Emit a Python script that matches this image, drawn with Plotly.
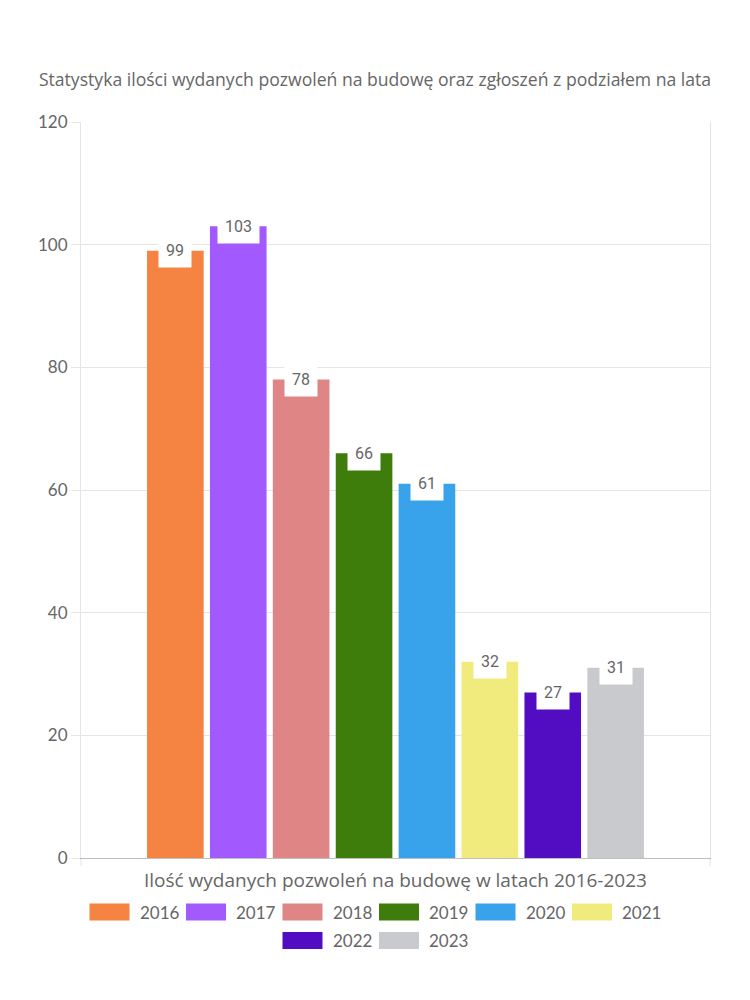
import plotly.graph_objects as go

years = ["2016", "2017", "2018", "2019", "2020", "2021", "2022", "2023"]
values = [99, 103, 78, 66, 61, 32, 27, 31]
colors = ["#f58442", "#a259fe", "#e08585", "#3e7d0c", "#38a3eb", "#f0eb7c", "#520dc2", "#c9cacd"]
category = ["Ilość wydanych pozwoleń na budowę w latach 2016-2023"]
title_text = "Statystyka ilości wydanych pozwoleń na budowę oraz zgłoszeń z podziałem na lata"
y_ticks = [0, 20, 40, 60, 80, 100, 120]

TXT = "#666666"
GRID = "rgba(0,0,0,0.1)"
FONT = "Lato, Open Sans, sans-serif"
WIDE = "Open Sans, sans-serif"

bargap = 0.2
groupgap = 0.1

fig = go.Figure()
for yr, v, c in zip(years, values, colors):
    fig.add_trace(go.Bar(x=[0], y=[v], name=yr, marker=dict(color=c, line=dict(width=0)),
                         showlegend=False, hoverinfo="y+name"))

L, R, T, B = 81, 40, 122, 142
W, H = 750, 1000
pw, ph = W - L - R, H - T - B
def px2x(px):
    return (px - L) / pw
def py2y(py):
    return (H - B - py) / ph

annotations = []
n = len(years)
slot = (1 - bargap) / n
for i, v in enumerate(values):
    xc = -(1 - bargap) / 2 + slot * (i + 0.5)
    annotations.append(dict(x=xc, y=v, xref="x", yref="y", text=str(v), showarrow=False,
                            font=dict(size=16, color=TXT, family="Roboto, sans-serif"),
                            bgcolor="white", borderpad=7, yanchor="middle", xanchor="center"))

# axis title
annotations.append(dict(x=px2x(395.5), y=py2y(880), xref="paper", yref="paper", text=category[0], showarrow=False,
                        yanchor="middle", xanchor="center", font=dict(size=19, color=TXT, family=WIDE)))

# custom legend
shapes = []
rows = [years[:6], years[6:]]
item_w = 96.5
k = 0
for r, row in enumerate(rows):
    total = item_w * len(row) - 10
    start = 375 - total / 2 - 1
    cy = 912 + r * 28.5
    for j, yr in enumerate(row):
        x0 = start + j * item_w
        shapes.append(dict(type="rect", xref="paper", yref="paper",
                           x0=px2x(x0), x1=px2x(x0 + 40), y0=py2y(cy - 8.5), y1=py2y(cy + 8.5),
                           fillcolor=colors[k], line=dict(width=0)))
        annotations.append(dict(x=px2x(x0 + 48), y=py2y(cy), xref="paper", yref="paper", text=yr,
                                showarrow=False, xanchor="left", yanchor="middle",
                                font=dict(size=17, color=TXT, family=FONT)))
        k += 1

# small bottom ticks at the category edges
for xp in (0, 1):
    shapes.append(dict(type="line", xref="paper", yref="paper", x0=xp, x1=xp,
                       y0=0, y1=py2y(H - B + 8), line=dict(color=GRID, width=1)))

fig.update_layout(
    width=W, height=H,
    margin=dict(l=L, r=R, t=T, b=B),
    paper_bgcolor="white", plot_bgcolor="white",
    barmode="group", bargap=bargap, bargroupgap=groupgap,
    title=dict(text=title_text, x=0.5, xanchor="center", xref="container", y=1 - 80 / H, yanchor="middle",
               font=dict(size=17.6, color=TXT, family=WIDE)),
    xaxis=dict(range=[-0.5, 0.5], showticklabels=False, showgrid=False, zeroline=False,
               showline=True, linecolor="rgba(0,0,0,0.25)", linewidth=1, ticks=""),
    yaxis=dict(range=[0, 120], tickvals=y_ticks, showgrid=True, gridcolor=GRID, gridwidth=1,
               zeroline=False, showline=True, linecolor=GRID, mirror=True,
               ticks="outside", ticklen=9, tickcolor=GRID,
               tickfont=dict(size=17, color=TXT, family=FONT)),
    annotations=annotations, shapes=shapes,
    showlegend=False,
)

fig.write_html("out.html")
